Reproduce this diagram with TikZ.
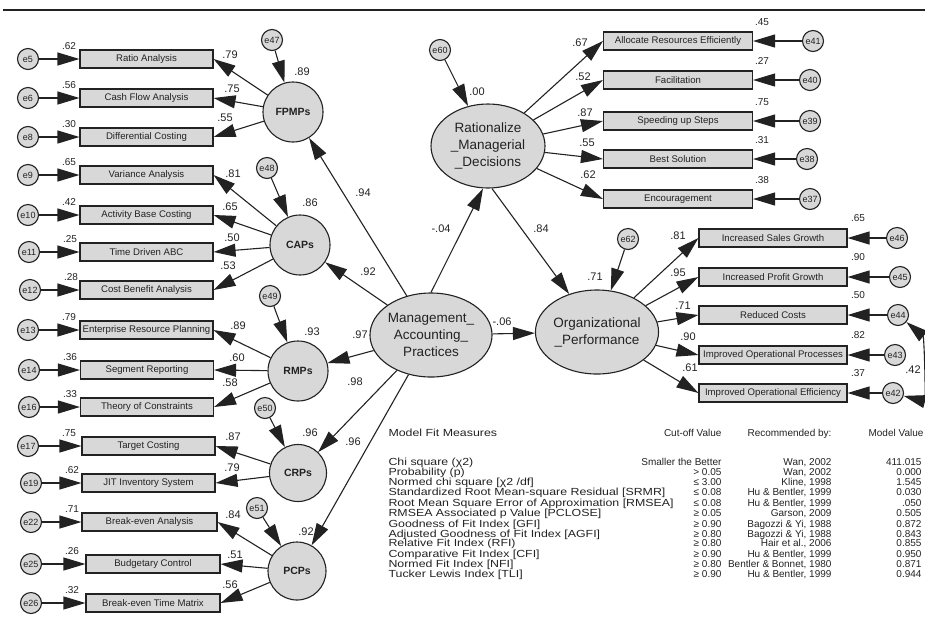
\documentclass[tikz,border=0pt]{standalone}
\usepackage{fontspec}
\setmainfont{Liberation Sans}
\newfontfamily\widesans[FakeStretch=1.2]{Liberation Sans}
\usetikzlibrary{positioning,arrows.meta,shapes.geometric}
\definecolor{shade}{HTML}{D8D8D8}
\definecolor{ink}{HTML}{222222}

\begin{document}
\begin{tikzpicture}[
    x=1pt, y=-1pt,
    >={Triangle[length=22pt,width=13pt]},
    line width=1.1pt,
    color=ink,
    ind/.style={rectangle, draw, fill=shade, minimum height=18pt, inner sep=1pt, font=\fontsize{9.6}{11}\selectfont},
    err/.style={circle, draw, fill=shade, minimum size=21pt, inner sep=0pt, font=\fontsize{9}{9}\selectfont},
    lat/.style={circle, draw, fill=shade, minimum size=60pt, inner sep=0pt, font=\fontsize{10.5}{12}\selectfont\bfseries},
    con/.style={ellipse, draw, fill=shade, minimum width=112pt, minimum height=84pt, inner sep=0pt, align=center, font=\fontsize{13.5}{17}\selectfont},
    est/.style={font=\fontsize{11}{12}\selectfont, inner sep=0pt},
    estsm/.style={font=\fontsize{10}{11}\selectfont, inner sep=0pt},
    fit/.style={font=\fontsize{10}{10}\selectfont, inner sep=0pt, text height=7pt, text depth=2pt},
    fitw/.style={fit, font=\fontsize{10.3}{10}\widesans}
]
\clip (0,0) rectangle (925,619);

\draw[line width=1.5pt] (3,10) -- (925,10);

% observed indicators of the five practices
\foreach \n/\x/\y/\w/\t/\e/\ex/\el in {
    ratio/146.5/59/133/Ratio Analysis/e5/28/.62,
    cash/146.5/98/133/Cash Flow Analysis/e6/28/.56,
    diff/146.5/137/133/Differential Costing/e8/28/.30,
    var/146.5/175/133/Variance Analysis/e9/28/.65,
    abc/146.5/215/133/Activity Base Costing/e10/28/.42,
    tdabc/146.5/252/133/Time Driven ABC/e11/29/.25,
    cba/146.5/290/133/Cost Benefit Analysis/e12/30/.28,
    erp/146.5/330/133/Enterprise Resource Planning/e13/28/.79,
    seg/147/370/133/Segment Reporting/e14/29/.36,
    toc/147/407/133/Theory of Constraints/e16/29/.33,
    tc/148.5/446/133/Target Costing/e17/28/.75,
    jit/148.5/483/133/JIT Inventory System/e19/31/.62,
    bea/149.5/522/135/Break-even Analysis/e22/31/.71,
    bc/153/564/134/Budgetary Control/e25/31/.26,
    betm/153/603/134/Break-even Time Matrix/e26/31/.32} {
    \node[ind, minimum width=\w] (\n) at (\x,\y) {\t};
    \node[err] (\e) at (\ex,\y) {\e};
    \draw[->] (\e) -- (\n);
    \node[estsm] (r\n) at ({\ex+41},{\y-13}) {\el};
}

% indicators of rationalized decisions
\foreach \n/\y/\t/\e/\ex/\el in {
    alloc/41/Allocate Resources Efficiently/e41/813/.45,
    facil/80/Facilitation/e40/810/.27,
    speed/121/Speeding up Steps/e39/810/.75,
    best/159/Best Solution/e38/807/.31,
    enc/199/Encouragement/e37/810/.38} {
    \node[ind, minimum width=149] (\n) at (678,\y) {\t};
    \node[err] (\e) at (\ex,\y) {\e};
    \draw[->] (\e) -- (\n);
    \node[estsm] (r\n) at (762,{\y-19}) {\el};
}

% indicators of performance
\foreach \n/\y/\t/\e/\ex/\el in {
    isg/238/Increased Sales Growth/e46/897/.65,
    ipg/277/Increased Profit Growth/e45/900/.90,
    rc/315/Reduced Costs/e44/898/.50,
    iop/355/Improved Operational Processes/e43/895/.82,
    ioe/393/Improved Operational Efficiency/e42/893/.37} {
    \node[ind, minimum width=148] (\n) at (773,\y) {\t};
    \node[err] (\e) at (\ex,\y) {\e};
    \draw[->] (\e) -- (\n);
    \node[estsm] (r\n) at (858,{\y-20}) {\el};
}

% latent constructs
\node[lat] (fpmp) at (293,112) {FPMPs};
\node[lat] (cap) at (300,245) {CAPs};
\node[lat] (rmp) at (298,371) {RMPs};
\node[lat, minimum size=57pt] (crp) at (298,473) {CRPs};
\node[lat, minimum size=58pt] (pcp) at (297,571) {PCPs};

\node[con] (map) at (431,335) {Management\_\\Accounting\_\\Practices};
\node[con, minimum width=114pt] (rmd) at (488,146) {Rationalize\\\_Managerial\\\_Decisions};
\node[con] (op) at (597,332) {Organizational\\\_Performance};

\node[err] (e47) at (272,40) {e47};
\node[err] (e48) at (267,168) {e48};
\node[err] (e49) at (270,296) {e49};
\node[err] (e50) at (265,408) {e50};
\node[err] (e51) at (257,508) {e51};
\node[err] (e60) at (440,50) {e60};
\node[err] (e62) at (628,239) {e62};

\foreach \a/\b in {e47/fpmp, e48/cap, e49/rmp, e50/crp, e51/pcp, e60/rmd, e62/op}
    \draw[->] (\a) -- (\b);

\foreach \b in {ratio,cash,diff} \draw[->] (fpmp) -- (\b.east);
\foreach \b in {var,abc,tdabc,cba} \draw[->] (cap) -- (\b.east);
\foreach \b in {erp,seg,toc} \draw[->] (rmp) -- (\b.east);
\foreach \b in {tc,jit} \draw[->] (crp) -- (\b.east);
\foreach \b in {bea,bc,betm} \draw[->] (pcp) -- (\b.east);
\foreach \b in {alloc,facil,speed,best,enc} \draw[->] (rmd) -- (\b.west);
\foreach \b in {isg,ipg,rc,iop,ioe} \draw[->] (op) -- (\b.west);

\foreach \b in {fpmp,cap,rmp,crp,pcp,op} \draw[->] (map) -- (\b);
\draw[->] (map.north) -- ([xshift=-5pt]rmd.south);
\draw[->] ([xshift=4pt]rmd.south) -- (op);
\draw[<->] (e44) to[out=-40, in=-15, looseness=0.8] (e42);

% estimates
\foreach \x/\y/\v [count=\i] in {
    230/55/.79, 232/89/.75, 225/118/.55, 233/174/.81, 230/207/.65,
    232/238/.50, 228/266/.53, 238/326/.89, 237/358/.60, 230/383/.58,
    233/437/.87, 232/468/.79, 233/515/.84, 235/555/.51, 230/585/.56,
    302/72/.89, 310/203/.86, 312/332/.93, 310/433/.96, 306/532/.92,
    363/193/.94, 368/272/.92, 360/335/.97, 355/382/.98, 353/442/.96,
    441/229/-.04, 541/229/.84, 502/322/-.06, 477/92/.00, 595/277/.71,
    580/43/.67, 583/77/.52, 585/113/.87, 587/143/.55, 588/175/.62,
    678/236/.81, 678/273/.95, 683/306/.71, 688/337/.90, 690/368/.61,
    913/370/.42}
    \node[est] (w\i) at (\x,\y) {\v};

% model fit table
\node[fitw, anchor=west] (hd1) at (388,434) {Model Fit Measures};
\node[fit, anchor=east] (hd2) at (722,434) {Cut-off Value};
\node[fit, anchor=east] (hd3) at (832,434) {Recommended by:};
\node[fit, anchor=west] (hd4) at (868,434) {Model Value};
\foreach \y/\m/\c/\r/\v [count=\i] in {
    463/{Chi square (χ2)}/{Smaller the Better}/{Wan, 2002}/411.015,
    473/{Probability (p)}/{> 0.05}/{Wan, 2002}/0.000,
    483/{Normed chi square [χ2 /df]}/{≤ 3.00}/{Kline, 1998}/1.545,
    493/{Standardized Root Mean-square Residual [SRMR]}/{≤ 0.08}/{Hu \& Bentler, 1999}/0.030,
    504/{Root Mean Square Error of Approximation [RMSEA]}/{≤ 0.08}/{Hu \& Bentler, 1999}/.050,
    514/{RMSEA Associated p Value [PCLOSE]}/{≥ 0.05}/{Garson, 2009}/0.505,
    525/{Goodness of Fit Index [GFI]}/{≥ 0.90}/{Bagozzi \& Yi, 1988}/0.872,
    535/{Adjusted Goodness of Fit Index [AGFI]}/{≥ 0.80}/{Bagozzi \& Yi, 1988}/0.843,
    544/{Relative Fit Index (RFI)}/{≥ 0.80}/{Hair et al., 2006}/0.855,
    555/{Comparative Fit Index [CFI]}/{≥ 0.90}/{Hu \& Bentler, 1999}/0.950,
    565/{Normed Fit Index [NFI]}/{≥ 0.80}/{Bentler \& Bonnet, 1980}/0.871,
    575/{Tucker Lewis Index [TLI]}/{≥ 0.90}/{Hu \& Bentler, 1999}/0.944} {
    \node[fitw, anchor=west] (fm\i) at (388,\y) {\m};
    \node[fit, anchor=east] (fc\i) at (722,\y) {\c};
    \node[fit, anchor=east] (fr\i) at (832,\y) {\r};
    \node[fit, anchor=east] (fv\i) at (922,\y) {\v};
}
\end{tikzpicture}
\end{document}
